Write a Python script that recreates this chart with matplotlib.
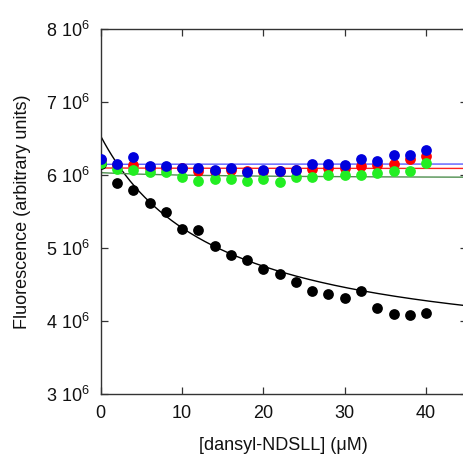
import numpy as np
import matplotlib
matplotlib.use("Agg")
import matplotlib.pyplot as plt

plt.rcParams['font.family'] = ['Liberation Sans', 'DejaVu Sans']
plt.rcParams['mathtext.fontset'] = 'custom'
plt.rcParams['mathtext.rm'] = 'Liberation Sans'
plt.rcParams['mathtext.it'] = 'Liberation Sans:italic'

conc = [0, 2, 4, 6, 8, 10, 12, 14, 16, 18, 20, 22, 24, 26, 28, 30, 32, 34, 36, 38, 40]
black = [6.15, 5.895, 5.795, 5.62, 5.49, 5.256, 5.242, 5.032, 4.904, 4.831, 4.708,
         4.644, 4.534, 4.411, 4.374, 4.315, 4.415, 4.178, 4.10, 4.086, 4.105]
red = [6.20, 6.13, 6.13, 6.10, 6.10, 6.09, 6.06, 6.055, 6.07, 6.06, 6.055,
       6.06, 6.07, 6.082, 6.09, 6.10, 6.123, 6.13, 6.146, 6.215, 6.26]
green = [6.168, 6.078, 6.068, 6.037, 6.037, 5.977, 5.922, 5.950, 5.941, 5.922, 5.941,
         5.904, 5.968, 5.968, 6.004, 6.004, 6.004, 6.032, 6.059, 6.050, 6.168]
blue = [6.219, 6.151, 6.242, 6.123, 6.128, 6.10, 6.092, 6.068, 6.096, 6.045, 6.073,
        6.059, 6.068, 6.151, 6.151, 6.132, 6.215, 6.196, 6.27, 6.27, 6.342]

# fit parameters (F0, dF, Kd) for F = F0 - dF*x/(Kd+x), in units of 1e6
fit_black = (6.534, 3.07, 14.4)
fit_red = (6.096, 0.008, 14.4)
fit_green = (6.032, 0.082, 14.4)
fit_blue = (6.146, -0.005, 14.4)

yticks = [3, 4, 5, 6, 7, 8]
xticks = [0, 10, 20, 30, 40]

fig = plt.figure(figsize=(4.64, 4.57), dpi=100)
ax = fig.add_axes([0.217, 0.138, 0.789, 0.7985])

xf = np.linspace(0, 45, 300)
def model(p, x):
    F0, dF, K = p
    return F0 - dF * x / (K + x)

ax.plot(xf, model(fit_black, xf), color='black', lw=1.0, zorder=2)
ax.plot(xf, model(fit_green, xf), color='#4f8f4f', lw=1.0, zorder=2)
ax.plot(xf, model(fit_red, xf), color='#ff2020', lw=1.0, zorder=2)
ax.plot(xf, model(fit_blue, xf), color='#5a5aff', lw=1.0, zorder=2)

ms = 60
ax.scatter(conc, black, s=ms, color='black', zorder=3, linewidths=0)
ax.scatter(conc, red, s=ms, color='#ff0000', zorder=4, linewidths=0)
ax.scatter(conc, green, s=ms, color='#22ee22', zorder=5, linewidths=0)
ax.scatter(conc, blue, s=ms, color='#0000dd', zorder=6, linewidths=0)

ax.set_xlim(0, 45)
ax.set_ylim(3, 8)
ax.set_xticks(xticks)
ax.set_xticklabels([str(t) for t in xticks])
ax.set_yticks(yticks)
ax.set_yticklabels([r'%d 10$^{6}$' % t for t in yticks])
ax.tick_params(direction='in', length=5, width=0.9, color='#333333',
               top=True, right=True, labelsize=13, pad=8, labelcolor='#111111')
for s in ax.spines.values():
    s.set_linewidth(1.0)
    s.set_color('#333333')

ax.set_xlabel('[dansyl-NDSLL] (\u03bcM)', fontsize=13, labelpad=11, color='#111111')
ax.set_ylabel('Fluorescence (arbitrary units)', fontsize=13, labelpad=11, color='#111111')

fig.savefig('out.png', dpi=100)
